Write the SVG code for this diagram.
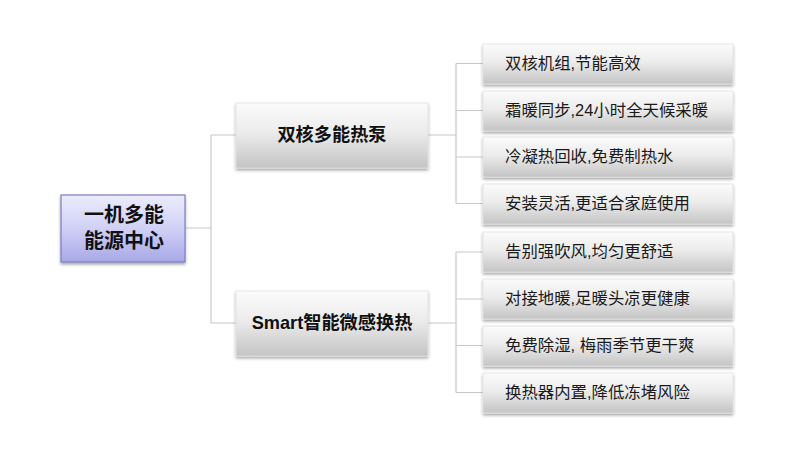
<svg xmlns="http://www.w3.org/2000/svg" width="800" height="460" viewBox="0 0 800 460">
<defs>
<linearGradient id="gGrey" x1="0" y1="0" x2="0" y2="1">
<stop offset="0" stop-color="#fbfbfb"/>
<stop offset="0.45" stop-color="#ececec"/>
<stop offset="1" stop-color="#c4c4c4"/>
</linearGradient>
<linearGradient id="gPurple" x1="0" y1="0" x2="0" y2="1">
<stop offset="0" stop-color="#ececfc"/>
<stop offset="0.5" stop-color="#d0d0f6"/>
<stop offset="1" stop-color="#a8a8e8"/>
</linearGradient>
<filter id="sh" x="-10%" y="-10%" width="120%" height="130%">
<feGaussianBlur in="SourceAlpha" stdDeviation="1.5"/>
<feOffset dx="0" dy="1.5"/>
<feComponentTransfer><feFuncA type="linear" slope="0.35"/></feComponentTransfer>
<feMerge><feMergeNode/><feMergeNode in="SourceGraphic"/></feMerge>
</filter>
</defs>
<style>
.leaf{fill:url(#gGrey);stroke:#e2e2e2;stroke-width:0.8;filter:url(#sh)}
.mid{fill:url(#gGrey);stroke:#e2e2e2;stroke-width:0.8;filter:url(#sh)}
.root{fill:url(#gPurple);stroke:#7c7cc4;stroke-width:1.2;filter:url(#sh)}
.lt{font-family:"Liberation Sans","Noto Sans CJK SC",sans-serif;font-size:16.4px;fill:#1a1a1a}
.mt{font-family:"Liberation Sans","Noto Sans CJK SC",sans-serif;font-size:18.2px;font-weight:bold;fill:#111;text-anchor:middle}
.rt{font-family:"Liberation Sans","Noto Sans CJK SC",sans-serif;font-size:20px;font-weight:bold;fill:#111;text-anchor:middle}
.c{fill:none;stroke:#c8c8c8;stroke-width:1.2}
</style>
<rect width="800" height="460" fill="#ffffff"/>
<g id="connectors">
<path class="c" d="M185,228 H211 M211,135 V323 M211,135 H236 M211,323 H236"/>
<path class="c" d="M428,135 H456 M456,63.5 V203.5 M456,63.5 H483 M456,110.5 H483 M456,157 H483 M456,203.5 H483"/>
<path class="c" d="M428,323 H456 M456,252 V392.5 M456,252 H483 M456,299 H483 M456,345.5 H483 M456,392.5 H483"/>
</g>
<g id="root">
<rect class="root" x="61" y="195" width="124" height="67"/>
<text class="rt" x="124" y="222">一机多能</text>
<text class="rt" x="124" y="248">能源中心</text>
</g>
<g id="mid1">
<rect class="mid" x="236" y="103" width="192" height="65"/>
<text class="mt" x="332" y="141">双核多能热泵</text>
</g>
<g id="mid2">
<rect class="mid" x="236" y="291" width="192" height="65"/>
<text class="mt" x="332" y="329">Smart智能微感换热</text>
</g>
<g id="leaf1"><rect class="leaf" x="483" y="44" width="250" height="40"/><text class="lt" x="505" y="69">双核机组,节能高效</text></g>
<g id="leaf2"><rect class="leaf" x="483" y="91" width="250" height="40"/><text class="lt" x="505" y="116">霜暖同步,24小时全天候采暖</text></g>
<g id="leaf3"><rect class="leaf" x="483" y="137" width="250" height="40"/><text class="lt" x="505" y="162">冷凝热回收,免费制热水</text></g>
<g id="leaf4"><rect class="leaf" x="483" y="184" width="250" height="40"/><text class="lt" x="505" y="209">安装灵活,更适合家庭使用</text></g>
<g id="leaf5"><rect class="leaf" x="483" y="232" width="250" height="40"/><text class="lt" x="505" y="257">告别强吹风,均匀更舒适</text></g>
<g id="leaf6"><rect class="leaf" x="483" y="279" width="250" height="40"/><text class="lt" x="505" y="304">对接地暖,足暖头凉更健康</text></g>
<g id="leaf7"><rect class="leaf" x="483" y="326" width="250" height="40"/><text class="lt" x="505" y="351">免费除湿, 梅雨季节更干爽</text></g>
<g id="leaf8"><rect class="leaf" x="483" y="373" width="250" height="40"/><text class="lt" x="505" y="398">换热器内置,降低冻堵风险</text></g>
</svg>
